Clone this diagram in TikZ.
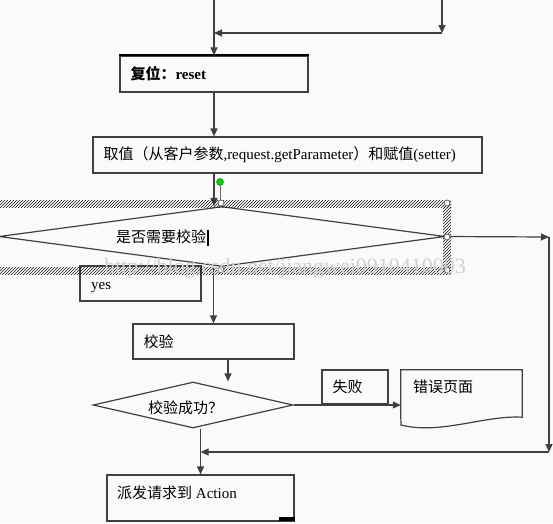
\documentclass[tikz,border=0pt]{standalone}
\usepackage{fontspec}
\setmainfont{Liberation Serif}
\newfontfamily\cjk{Noto Sans CJK SC}
\usetikzlibrary{arrows.meta,shapes.geometric,patterns}

\begin{document}
\begin{tikzpicture}[x=1pt,y=-1pt,
  conn/.style={draw=black!75,line width=1.2pt},
  arr/.style={conn,-{Triangle[length=8pt,width=7pt]}},
  box/.style={conn,rectangle,inner xsep=10.5pt,inner ysep=0pt,align=left},
  dia/.style={conn,diamond,inner sep=0pt},
  txt/.style={inner sep=0pt},
  hatch/.style={pattern=north east lines,pattern color=black!90}]
\fontsize{15}{18}\selectfont
\useasboundingbox[fill=black!2] (0,0) rectangle (553,523);

% 流程框
\node[box,text width=167pt,minimum height=36pt,font=\bfseries] (reset) at (214,74) {{\cjk 复位：}reset};
\node[box,text width=368pt,minimum height=36pt] (qz) at (287.5,155) {{\cjk 取值（从客户参数},request.getParameter{\cjk ）和赋值}(setter)};
\node[dia,minimum width=446pt,minimum height=60pt] (dia1) at (222,236.5) {};
\node[txt] (dia1t) at (161,237) {\cjk 是否需要校验};
\node[box,minimum width=121pt,minimum height=35pt] (yes) at (140.5,283.5) {};
\node[txt,anchor=base west] (yest) at (91,289) {yes};
\node[box,text width=140pt,minimum height=35pt] (jy) at (213.5,341.5) {\cjk 校验};
\node[dia,minimum width=200pt,minimum height=46pt] (dia2) at (193,405) {};
\node[txt,anchor=west] (dia2t) at (148,408) {\cjk 校验成功？};
\node[box,text width=45pt,minimum height=34pt] (fail) at (355,387) {\cjk 失败};
\node[minimum width=121pt,minimum height=47pt,inner sep=0pt] (doc) at (461.5,393.5) {};
\draw[conn] (doc.south west) -- (doc.north west) -- (doc.north east) -- (doc.south east)
  .. controls (485,415) and (440,435) .. (401,425) -- cycle;
\node[txt,anchor=west] (doct) at (413,387) {\cjk 错误页面};
\node[box,minimum width=187pt,minimum height=46pt] (pf) at (200.5,498) {};
\node[txt,anchor=west] (pft) at (117,493) {{\cjk 派发请求到} Action};
\draw[line width=2pt] (reset.north west) -- (reset.north east);
\fill (279,517) rectangle (295,521);

% 连线
\coordinate (t1) at (214,0);
\coordinate (t2) at (442,0);
\coordinate (t3) at (442,33);
\coordinate (r1) at (549,237);
\coordinate (r2) at (549,452);
\draw[arr] (t1) -- (reset.north);
\draw[arr] (t2) -- (t3);
\draw[arr] (t3) -- (t1 |- t3);
\draw[arr] (reset.south) -- (reset.south |- qz.north);
\draw[arr] (reset.south |- qz.south) -- (reset.south |- dia1.north);
\draw[arr] (dia1.east) -- (r1);
\draw[arr] (r1) -- (r2);
\draw[arr] (r2) -- (pf.north |- r2);
\draw[arr] (jy.north |- dia1.south) -- (jy.north);
\draw[arr] ([xshift=14.5pt]jy.south) -- ([xshift=14.5pt]jy.south |- dia2.north);
\draw[arr] (dia2.east) -- (dia2.east -| doc.west);
\draw[arr] (pf.north |- dia2.south) -- (pf.north);

% 选中框
\path[hatch] (0,200) rectangle (451,207);
\path[hatch] (0,267) rectangle (451,274);
\path[hatch] (443,207) rectangle (451,267);
\foreach \p in {(221,203),(447,203),(447,237),(221,270),(447,270)}
  \filldraw[fill=white,draw=black!60,line width=0.8pt] \p circle (3pt);
\draw[black!60,line width=1pt] (220,186) -- (220,200);
\filldraw[fill=green!85!black,draw=green!40!black] (220,182) circle (3.5pt);
\draw[line width=1.6pt] (208,230) -- (208,246);

\node[text=black!18,font=\fontsize{22}{22}\selectfont] (wm) at (285,268) {http://blog.csdn.net/jiangwei0910410003};
\end{tikzpicture}
\end{document}
